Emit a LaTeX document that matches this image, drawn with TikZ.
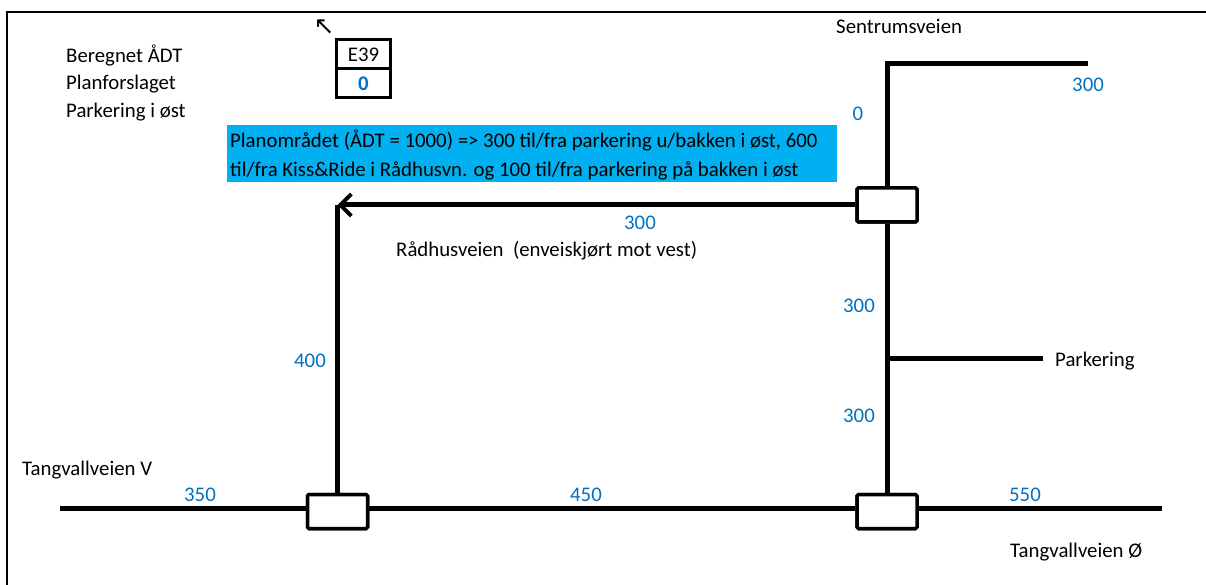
\documentclass[tikz,border=0pt]{standalone}
\usepackage{fontspec}
\setmainfont{Carlito}
\newfontfamily\symfont{DejaVu Sans}
\usetikzlibrary{arrows.meta}
\definecolor{numblue}{RGB}{0,112,192}
\definecolor{boxcyan}{RGB}{0,176,240}
\tikzset{
  road/.style={line width=5pt},
  junction/.style={draw, line width=3.5pt, rounded corners=1.5pt, minimum width=60pt, minimum height=34pt, inner sep=0pt, fill=white},
  txt/.style={font=\fontsize{20.8}{25}\selectfont, inner sep=0pt, anchor=west},
  num/.style={font=\fontsize{20.8}{25}\selectfont, inner sep=0pt, text=numblue},
  cell/.style={draw, line width=3pt, minimum width=54pt, minimum height=29pt, inner sep=0pt, font=\fontsize{20.8}{25}\selectfont},
}
\begin{document}
\begin{tikzpicture}[x=1pt,y=-1pt]
\useasboundingbox (0,0) rectangle (1206,585);
% frame
\draw[line width=2.5pt] (7,585) -- (7,12) -- (1206,12);
% legend
\node[txt] (l1) at (66,55) {Beregnet ÅDT};
\node[txt] (l2) at (66,84) {Planforslaget};
\node[txt] (l3) at (66,112) {Parkering i øst};
\node[cell] (c1) at (363.5,54.5) {E39};
\node[cell, text=numblue, font=\fontsize{20.8}{25}\selectfont\bfseries] (c2) at (363.5,83.5) {0};
\node[inner sep=0pt, font=\symfont\fontsize{25}{28}\selectfont] (nw) at (324,27) {↖};
% info box
\node[fill=boxcyan, anchor=north west, minimum width=610pt, minimum height=57pt, inner sep=0pt] (info) at (227,125) {};
\node[txt, align=left, font=\fontsize{20.8}{29}\selectfont, anchor=west] (infotxt) at (230,155)
  {Planområdet (ÅDT = 1000) => 300 til/fra parkering u/bakken i øst, 600\\til/fra Kiss\&Ride i Rådhusvn. og 100 til/fra parkering på bakken i øst};
% junctions
\node[junction] (jne) at (887,205) {};
\node[junction] (jse) at (887,511.5) {};
\node[junction] (jsw) at (337.5,511.5) {};
% coordinates
\coordinate (stop) at (887,64);
\coordinate (sright) at (1088,64);
\coordinate (corner) at (337.5,205);
\coordinate (pbranch) at (887,358);
\coordinate (pend) at (1043,358);
\coordinate (wend) at (60,508);
\coordinate (eend) at (1162,508);
% roads
\draw[road] (sright) -- (stop) -- (jne.north);
\draw[road, -{Straight Barb[length=11pt,width=22pt,line width=4pt]}] (jne.west) -- (corner);
\draw[road] (corner) -- (jsw.north);
\draw[road] (jne.south) -- (jse.north);
\draw[road] (pbranch) -- (pend);
\draw[road] (wend) -- (wend -| jsw.west);
\draw[road] (wend -| jsw.east) -- (wend -| jse.west);
\draw[road] (wend -| jse.east) -- (eend);
% redraw junctions on top
\node[junction] at (jne) {};
\node[junction] at (jse) {};
\node[junction] at (jsw) {};
% labels
\node[txt] (sv) at (836,26) {Sentrumsveien};
\node[num] (n300a) at (1088,85) {300};
\node[num] (n0) at (858,114) {0};
\node[num] (n300b) at (640,223) {300};
\node[txt] (rv) at (396,251) {Rådhusveien\ \ (enveiskjørt mot vest)};
\node[num] (n300c) at (859,306) {300};
\node[num] (n300d) at (859,416) {300};
\node[txt] (park) at (1055,361) {Parkering};
\node[num] (n400) at (310,361) {400};
\node[txt] (tv) at (22,470) {Tangvallveien V};
\node[num] (n350) at (200,495) {350};
\node[num] (n450) at (586,495) {450};
\node[num] (n550) at (1025,495) {550};
\node[txt] (to) at (1010,552) {Tangvallveien Ø};
\end{tikzpicture}
\end{document}
